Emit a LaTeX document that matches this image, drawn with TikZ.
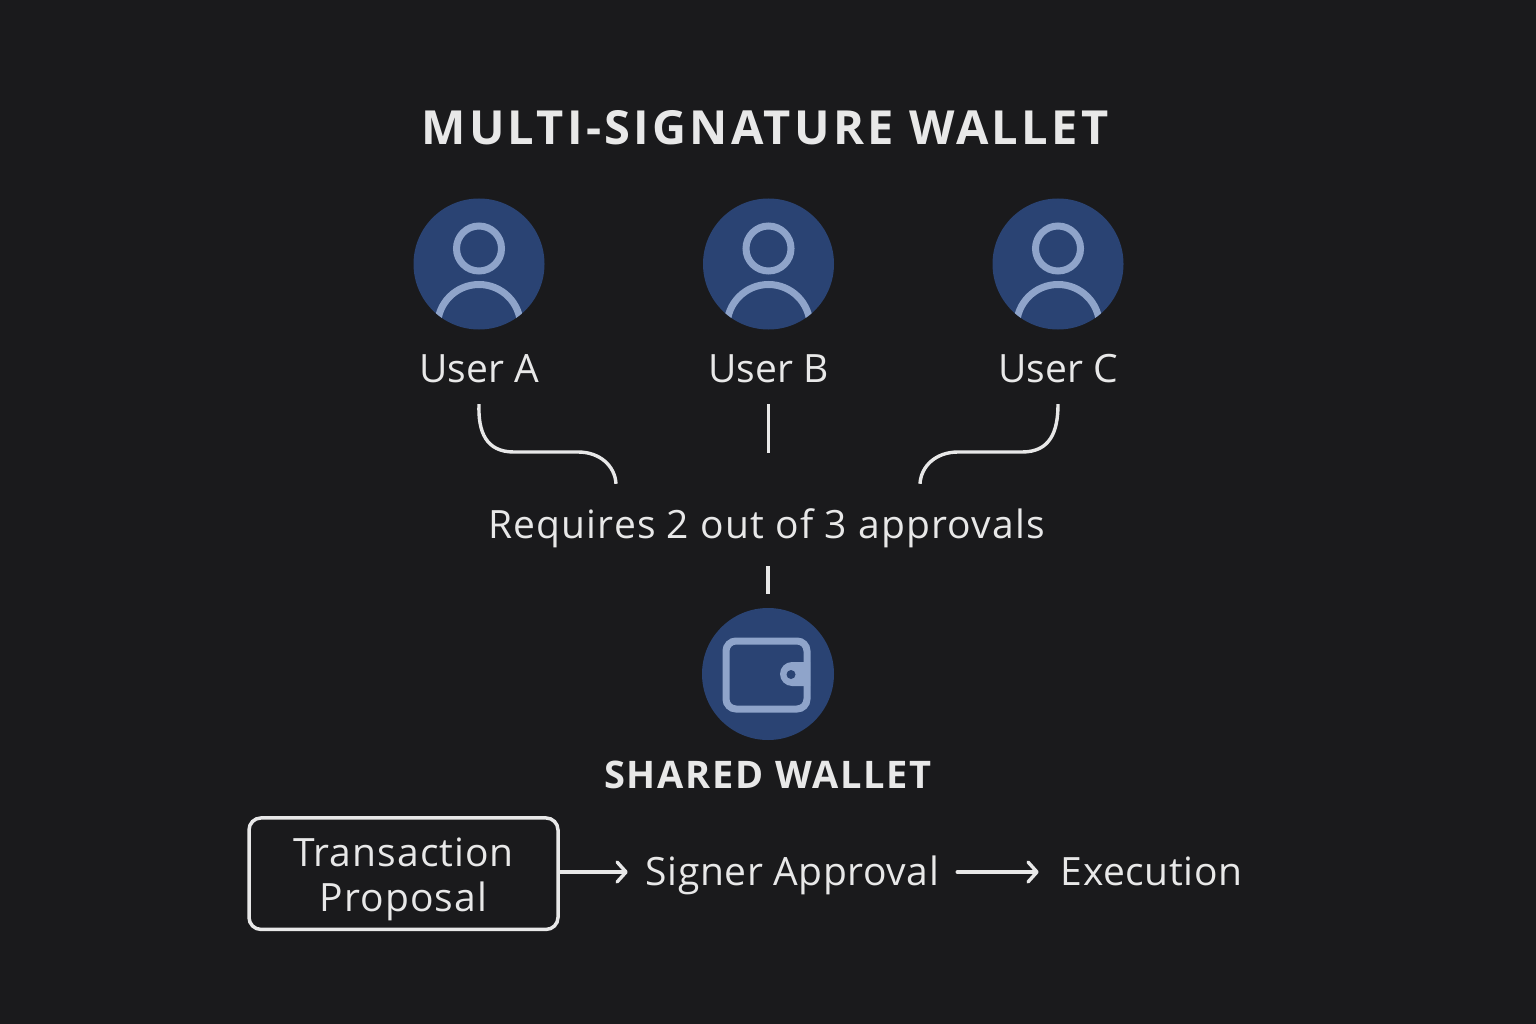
\documentclass[tikz,border=0pt]{standalone}
\usepackage{fontspec}
\setmainfont{Open Sans}
\newfontfamily\titlefont[LetterSpace=7]{Open Sans}
\newfontfamily\subfont[LetterSpace=4.7]{Open Sans}
\newfontfamily\widefont[LetterSpace=3]{Open Sans}
\newfontfamily\propfont[LetterSpace=2.7]{Open Sans}
\newfontfamily\flowfont[LetterSpace=1.4]{Open Sans}
\usetikzlibrary{arrows.meta,calc}
\definecolor{bgc}{HTML}{1A1A1C}
\definecolor{disc}{HTML}{2A4373}
\definecolor{icon}{HTML}{8FA4CA}
\definecolor{ink}{HTML}{E8E8E8}
\tikzset{
  lbl/.style={text=ink,font=\fontsize{39}{45}\selectfont,align=center,inner sep=0pt},
  userlbl/.style={lbl,minimum height=72pt,text height=34pt,text depth=6pt},
  flowlbl/.style={lbl,text height=36pt,text depth=10pt},
  disc/.style={circle,fill=disc,minimum size=#1,inner sep=0pt},
  conn/.style={draw=ink,line width=3.4pt},
  iconline/.style={draw=icon,line width=7pt},
  flow/.style={conn,line cap=round,-{Straight Barb[length=9pt,width=20pt,line width=3.4pt,round]}}
}
\begin{document}
\begin{tikzpicture}[x=1pt,y=-1pt]
\useasboundingbox (0,0) rectangle (1536,1024);
\fill[bgc] (0,0) rectangle (1536,1024);
\node[text=ink,inner sep=0pt,font=\fontsize{47}{50}\selectfont\bfseries\titlefont] (title) at (765,128) {MULTI-SIGNATURE WALLET};

\foreach \nm/\cx/\lab in {a/479/User A,b/768.5/User B,c/1058/User C}{
  \node[disc=131pt] (user\nm) at (\cx,264) {};
  \begin{scope}
    \clip (\cx,264) circle (65.5);
    \draw[iconline] (\cx,248.5) circle (22.5);
    \draw[iconline] (\cx,326) circle (41.5);
  \end{scope}
  \node[userlbl] (label\nm) at (\cx,368) {\lab};
}

\node[lbl,minimum height=82pt,text height=32pt,text depth=6pt] (req) at (766.5,525) {\widefont Requires 2 out of 3 approvals};

\coordinate (reqL) at ($(req.north)+(-150.5,0)$);
\coordinate (reqR) at ($(req.north)+(153.5,0)$);

\draw[conn] (labela.south) .. controls (478,432) and (486,452) .. (514,452)
  -- (578,452) .. controls (600,452) and (615,466) .. (reqL);
\draw[conn] (labelc.south) .. controls (1058,432) and (1050,452) .. (1022,452)
  -- (958,452) .. controls (936,452) and (921,466) .. (reqR);
\draw[conn,shorten >=31pt] (labelb.south) -- (labelb.south |- req.north);

\node[disc=132pt] (wallet) at (768,674) {};
\draw[conn,shorten >=14pt] (wallet.north |- req.south) -- (wallet.north);
\draw[iconline,rounded corners=10pt] (726,641) rectangle (807,709);
\fill[icon] (810,662) -- (792,662) arc[start angle=-90,end angle=-270,radius=12] -- (810,686) -- cycle;
\fill[disc] (791,674.5) circle (4.5);

\node[text=ink,inner sep=0pt,font=\fontsize{38}{45}\selectfont\bfseries\subfont] (shared) at (768,775) {SHARED WALLET};

\node[draw=ink,line width=3.5pt,rounded corners=12pt,minimum width=309pt,minimum height=111.5pt,lbl] (prop) at (403.5,873.7) {\propfont Transaction\rule{0pt}{40pt}\\\propfont Proposal};
\node[flowlbl,inner xsep=18pt] (signer) at (792.5,872) {\flowfont Signer Approval};
\node[flowlbl,inner xsep=22pt] (exec) at (1151.5,872) {\flowfont Execution};
\draw[flow] (prop.east |- signer.west) -- (signer.west);
\draw[flow] (signer.east) -- (exec.west);
\end{tikzpicture}
\end{document}
